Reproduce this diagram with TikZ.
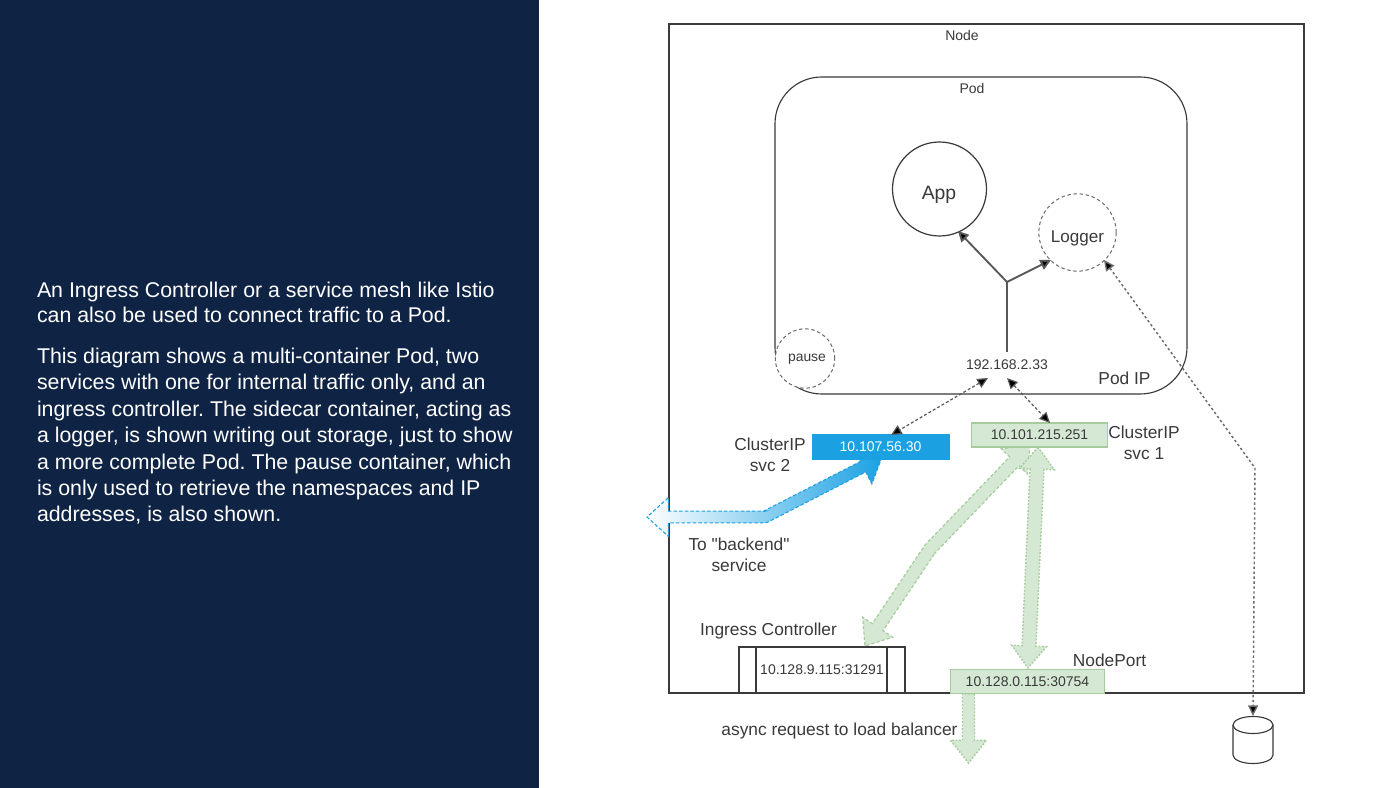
\documentclass[tikz,border=0pt]{standalone}
\usepackage{fontspec}
\setmainfont{Liberation Sans}
\newfontfamily\rawquote{Liberation Sans}
\usetikzlibrary{calc,shapes.geometric,arrows.meta}
\definecolor{panel}{HTML}{0F2445}
\definecolor{ink}{HTML}{3A3A3A}
\definecolor{gfill}{HTML}{D5E8D4}
\definecolor{gline}{HTML}{A6CC9E}
\definecolor{bfill}{HTML}{1BA1E2}
\tikzset{
  x=0.75pt,y=-0.75pt,
  every node/.style={text=ink,font=\fontsize{10.5}{12}\selectfont,inner sep=0pt,outer sep=0pt},
  frame/.style={draw=ink,line width=0.85pt,fill=white},
  dashcircle/.style={circle,draw=ink!75,fill=white,line width=0.75pt,dash pattern=on 2.6pt off 2pt},
  lab/.style={font=\fontsize{13}{15.8}\selectfont,align=center},
  greenbox/.style={draw=gline,fill=gfill,line width=0.8pt},
  fatgreen/.style={draw=gline,fill=gfill,line width=0.9pt,dash pattern=on 2.4pt off 1.6pt},
  fatdot/.style={draw=gline,fill=gfill,line width=1.1pt,dash pattern=on 1.3pt off 1.3pt},
  fatblue/.style={draw=bfill,left color=white,middle color=bfill!35,right color=bfill,line width=0.8pt,dash pattern=on 2.6pt off 1.6pt},
  solidarrow/.style={draw=ink!85,line width=1.4pt,-{Triangle[length=8pt,width=8pt,fill=black]}},
  dasharrow/.style={draw=ink!85,line width=0.9pt,dash pattern=on 2.2pt off 1.6pt,{Triangle[length=8pt,width=7.5pt,fill=black]}-{Triangle[length=8pt,width=7.5pt,fill=black]}},
  para/.style={text=white,align=left,anchor=north west}
}
\newcommand{\fatdbl}[7]{% style, A, M, B, half body, half head, head length
  \coordinate (ba) at ($(#2)!#7!(#3)$);
  \coordinate (bb) at ($(#4)!#7!(#3)$);
  \draw[#1] (#2) -- ($(ba)!#6!90:(#3)$) -- ($(ba)!#5!90:(#3)$) -- ($(#3)!#5!-90:(#2)$) -- ($(#3)!#5!90:(#4)$) -- ($(bb)!#5!-90:(#3)$) -- ($(bb)!#6!-90:(#3)$) -- (#4) -- ($(bb)!#6!90:(#3)$) -- ($(bb)!#5!90:(#3)$) -- ($(#3)!#5!-90:(#4)$) -- ($(#3)!#5!90:(#2)$) -- ($(ba)!#5!-90:(#3)$) -- ($(ba)!#6!-90:(#3)$) -- cycle;}
\newcommand{\fatone}[6]{% style, A(tail), B(tip), half body, half head, head length
  \coordinate (bb) at ($(#3)!#6!(#2)$);
  \draw[#1] ($(#2)!#4!90:(#3)$) -- ($(bb)!#4!-90:(#2)$) -- ($(bb)!#5!-90:(#2)$) -- (#3) -- ($(bb)!#5!90:(#2)$) -- ($(bb)!#4!90:(#2)$) -- ($(#2)!#4!-90:(#3)$) -- cycle;}
\begin{document}
\begin{tikzpicture}
\useasboundingbox (0,0) rectangle (1400,788);
\fill[white] (0,0) rectangle (1400,788);
\fill[panel] (0,0) rectangle (539,788);
\frenchspacing
\node[para,font=\fontsize{16}{18.8}\selectfont] (p1) at (37,282) {An Ingress Controller or a service mesh like Istio\\can also be used to connect traffic to a Pod.};
\node[para,font=\fontsize{16}{19.8}\selectfont] (p2) at (37,348) {This diagram shows a multi-container Pod, two\\services with one for internal traffic only, and an\\ingress controller. The sidecar container, acting as\\a logger, is shown writing out storage, just to show\\a more complete Pod. The pause container, which\\is only used to retrieve the namespaces and IP\\addresses, is also shown.};

% frames
\node[frame,minimum width=476.25pt,minimum height=501.75pt] (nodebox) at (986.5,358.5) {};
\node (nodelab) at (962,35) {Node};
\node[frame,rounded corners=35pt,minimum width=309pt,minimum height=237.75pt] (pod) at (981,235.5) {};
\node (podlab) at (972,88) {Pod};
\node[circle,frame,line width=0.9pt,minimum size=70.5pt] (app) at (939.5,189) {};
\node[font=\fontsize{14.5}{17}\selectfont] (applab) at (939,195) {App};
\node[dashcircle,minimum size=58pt] (logger) at (1077.5,232.5) {};
\node[font=\fontsize{12.8}{15}\selectfont] (loggerlab) at (1077.5,238) {Logger};
\node[dashcircle,minimum size=44.5pt] (pause) at (805,358.5) {};
\node[font=\fontsize{10.4}{12}\selectfont] (pauselab) at (807,359) {pause};
\node (ip) at (1007,365) {192.168.2.33};
\node[lab] (podip) at (1124.5,378) {Pod IP};

% fat arrows
\coordinate (blueTip) at (882,457);
\coordinate (blueBend) at (765,517);
\coordinate (blueEnd) at (647,517);
\fatdbl{fatblue}{blueTip}{blueBend}{blueEnd}{4.4pt}{14.5pt}{16pt}
\coordinate (ingTop) at (1030,445);
\coordinate (ingBend) at (930,549);
\coordinate (ingTip) at (865,646);
\fatdbl{fatgreen}{ingTop}{ingBend}{ingTip}{4.8pt}{13.5pt}{17pt}
\coordinate (portTop) at (1038,447);
\coordinate (portMid) at (1033,557);
\coordinate (portTip) at (1028,668);
\fatdbl{fatdot}{portTop}{portMid}{portTip}{5.2pt}{13pt}{16.5pt}

% boxes
\node[draw=bfill,fill=bfill,minimum width=102.5pt,minimum height=18.5pt,text=white] (svc2) at (880.5,446.5) {10.107.56.30};
\node[greenbox,minimum width=102.5pt,minimum height=18pt] (svc1) at (1039.5,435) {10.101.215.251};
\node[lab] (svc2lab) at (770,455) {ClusterIP\\svc 2};
\node[lab] (svc1lab) at (1144,442.5) {ClusterIP\\svc 1};
\node[lab] (backend) at (739,554.5) {To {\rawquote"}backend{\rawquote"}\\service};
\node[frame,minimum width=124.5pt,minimum height=34.5pt] (ingress) at (822,670) {10.128.9.115:31291};
\draw[ink,line width=0.85pt] (ingress.north west)++(17,0) coordinate (ia) -- (ingress.south west-|ia);
\draw[ink,line width=0.85pt] (ingress.north east)++(-18,0) coordinate (ib) -- (ingress.south east-|ib);
\node[lab] (inglab) at (768.5,631) {Ingress Controller};
\node[greenbox,minimum width=115pt,minimum height=17.5pt] (nodeport) at (1027.5,681.5) {10.128.0.115:30754};
\node[lab] (nplab) at (1109.5,660) {NodePort};
\coordinate (lbTail) at (968.5,694);
\coordinate (lbTip) at (968.5,763);
\fatone{fatdot}{lbTail}{lbTip}{4.5pt}{13.5pt}{17pt}
\node[lab] (asynclab) at (839.5,731) {async request to load balancer};

% storage
\node[minimum width=30pt,minimum height=36pt] (store) at (1253,740) {};
\draw[draw=ink,fill=white,line width=0.85pt] (store.north west)++(0,9) -- ($(store.south west)+(0,-9)$) arc[start angle=180,end angle=360,x radius=15pt,y radius=6.4pt] -- ($(store.north east)+(0,9)$) arc[start angle=0,end angle=180,x radius=15pt,y radius=6.4pt] -- cycle;
\draw[draw=ink,line width=0.85pt] ($(store.north west)+(0,9)$) arc[start angle=180,end angle=360,x radius=15pt,y radius=6.4pt];

% arrows
\coordinate (junction) at (1007,282);
\coordinate (ipTop) at (1007,352);
\coordinate (appEnd) at (958,231);
\coordinate (logEnd) at (1051,260);
\draw[draw=ink!85,line width=1.6pt] (ipTop) -- (junction);
\draw[solidarrow] (junction) -- (appEnd);
\draw[solidarrow] (junction) -- (logEnd);
\coordinate (ipa) at (988,378);
\coordinate (ipb) at (1007,378);
\coordinate (s2top) at (891,435);
\coordinate (s1top) at (1050,423);
\draw[dasharrow] (ipa) -- (s2top);
\draw[dasharrow] (ipb) -- (s1top);
\coordinate (logTail) at (1104,260);
\coordinate (logBend) at (1255,468);
\draw[draw=ink!75,line width=1.1pt,dash pattern=on 1.8pt off 1.9pt,{Triangle[length=8pt,width=7.5pt,fill=black]}-{Triangle[length=8pt,width=7.5pt,fill=black]}] (logTail) -- (logBend) -- (store.north);
\end{tikzpicture}
\end{document}
